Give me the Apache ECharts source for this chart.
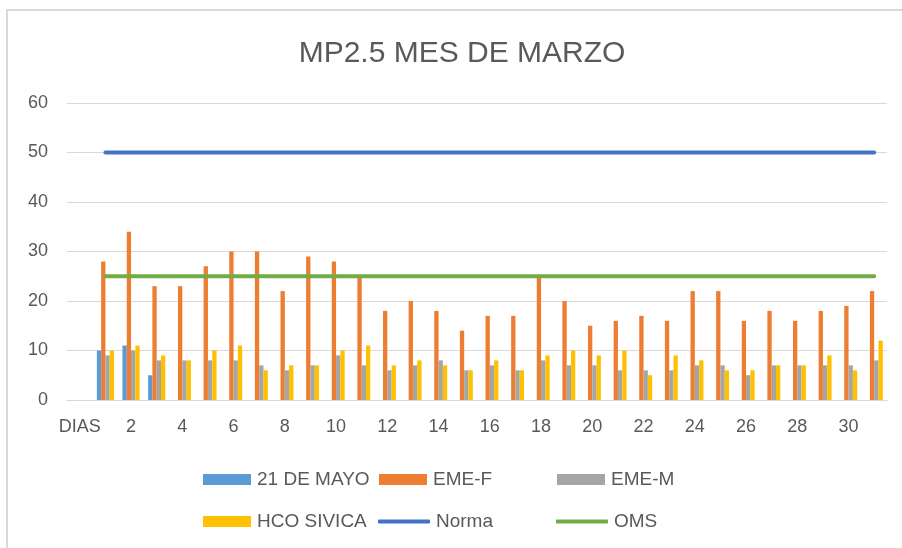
<!DOCTYPE html>
<html>
<head>
<meta charset="utf-8">
<script src="https://cdn.jsdelivr.net/npm/echarts@6/dist/echarts.min.js"></script>
<style>html,body{margin:0;padding:0;background:#fff}#c{width:902px;height:548px}</style>
</head>
<body>
<div id="c"></div>
<script>
var categories = ['DIAS','1','2','3','4','5','6','7','8','9','10','11','12','13','14','15','16','17','18','19','20','21','22','23','24','25','26','27','28','29','30','31'];
var mayo21 = [null,10,11,5,null,null,null,null,null,null,null,null,null,null,null,null,null,null,null,null,null,null,null,null,null,null,null,null,null,null,null,null];
var emeF = [null,28,34,23,23,27,30,30,22,29,28,25,18,20,18,14,17,17,25,20,15,16,17,16,22,22,16,18,16,18,19,22];
var emeM = [null,9,10,8,8,8,8,7,6,7,9,7,6,7,8,6,7,6,8,7,7,6,6,6,7,7,5,7,7,7,7,8];
var hco = [null,10,11,9,8,10,11,6,7,7,10,11,7,8,7,6,8,6,9,10,9,10,5,9,8,6,6,7,7,9,6,12];
var norma = [null,50,50,50,50,50,50,50,50,50,50,50,50,50,50,50,50,50,50,50,50,50,50,50,50,50,50,50,50,50,50,50];
var oms = [null,25,25,25,25,25,25,25,25,25,25,25,25,25,25,25,25,25,25,25,25,25,25,25,25,25,25,25,25,25,25,25];
var yTicks = [0,10,20,30,40,50,60];

var FONT = 'Liberation Sans';
var TXT = '#595959';
var chart = echarts.init(document.getElementById('c'), null, {renderer:'canvas'});
function leg(name, left, top, isLine){
  return {data:[name], left:left, top:top, padding:0, itemGap:0,
    icon: isLine ? 'roundRect' : 'rect',
    itemWidth: isLine?52:48, itemHeight: isLine?4:11,
    textStyle:{fontFamily:FONT,fontSize:19,color:TXT,padding:[0,0,0,1]}, selectedMode:false};
}
function bar(name, data, color){
  return {name:name, type:'bar', data:data, barWidth:4.3, barGap:'0%', itemStyle:{color:color}, animation:false};
}
function line(name, data, color){
  return {name:name, type:'line', data:data, symbol:'none', lineStyle:{color:color,width:4,cap:'round'}, itemStyle:{color:color}, z:5, animation:false};
}
chart.setOption({
  animation:false,
  graphic:[{type:'rect', shape:{x:7,y:10,width:1000,height:1000}, style:{fill:'none',stroke:'#d9d9d9',lineWidth:2}, silent:true}],
  title:{text:'MP2.5 MES DE MARZO', left:457, top:34, textAlign:'center', textStyle:{fontFamily:FONT,fontSize:30,fontWeight:'normal',color:TXT}},
  legend:[
    leg('21 DE MAYO',203,470,false), leg('EME-F',379,470,false), leg('EME-M',557,470,false),
    leg('HCO SIVICA',203,512,false), leg('Norma',378,512,true), leg('OMS',556,512,true)
  ],
  grid:{left:67,right:15,top:103,bottom:148,containLabel:false},
  xAxis:{type:'category', data:categories, axisTick:{show:false},
    axisLine:{lineStyle:{color:'#d9d9d9',width:1}},
    axisLabel:{interval:1, fontFamily:FONT, fontSize:18, color:TXT, margin:18}},
  yAxis:{type:'value', min:yTicks[0], max:yTicks[yTicks.length-1], interval:10,
    axisLine:{show:false}, axisTick:{show:false},
    splitLine:{lineStyle:{color:'#d9d9d9',width:1}},
    axisLabel:{fontFamily:FONT, fontSize:18, color:TXT, margin:19}},
  series:[
    bar('21 DE MAYO', mayo21, '#5B9BD5'),
    bar('EME-F', emeF, '#ED7D31'),
    bar('EME-M', emeM, '#A5A5A5'),
    bar('HCO SIVICA', hco, '#FFC000'),
    line('Norma', norma, '#4472C4'),
    line('OMS', oms, '#70AD47')
  ]
});
</script>
</body>
</html>
